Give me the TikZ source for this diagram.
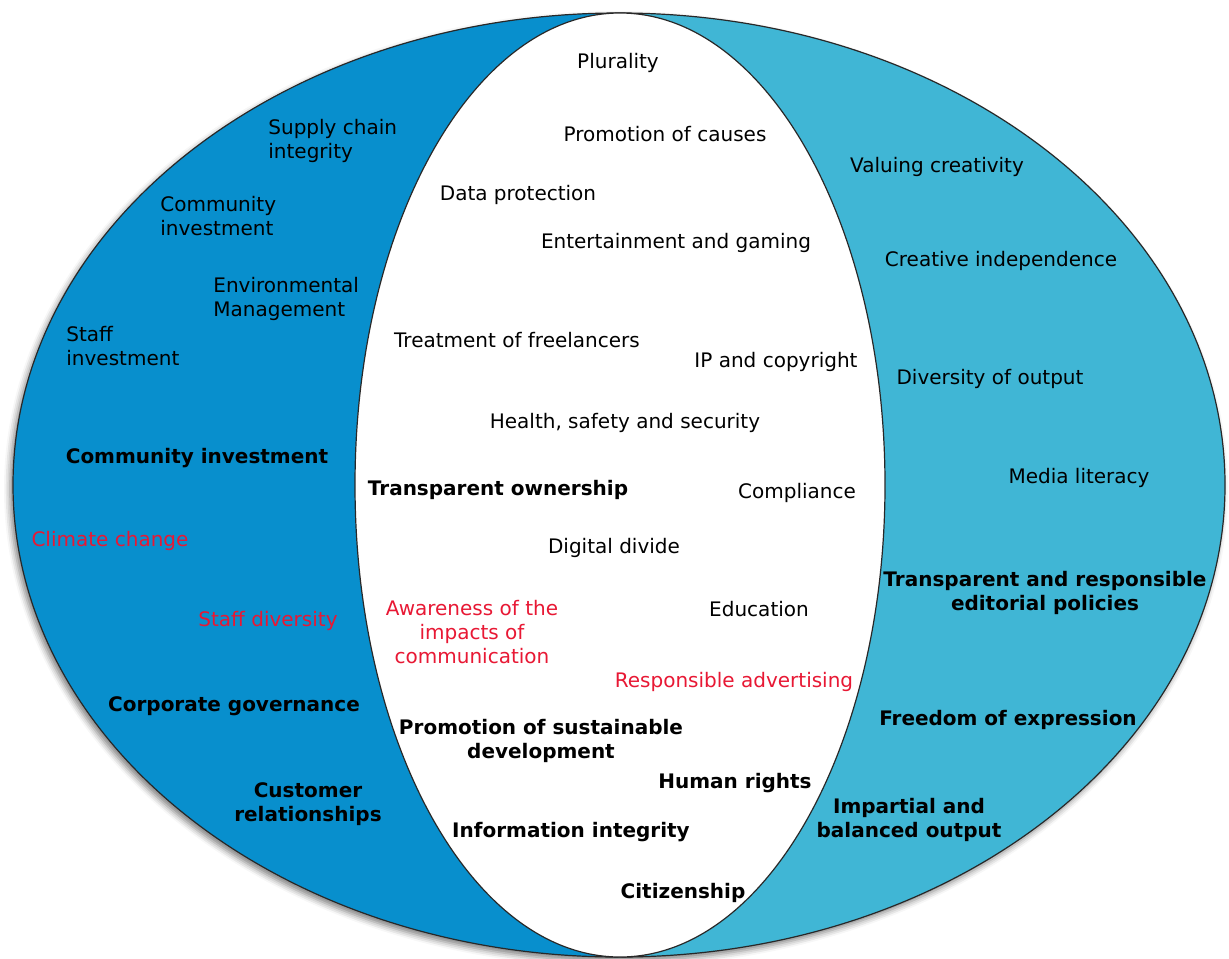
\documentclass[tikz,border=0pt]{standalone}
\usepackage{fontspec}
\setmainfont{DejaVu Sans}
\usepackage{xcolor}
\usetikzlibrary{shadows.blur}
\definecolor{leftblue}{RGB}{8,143,205}
\definecolor{rightblue}{RGB}{64,182,213}
\definecolor{issuered}{RGB}{232,24,52}
\definecolor{rim}{RGB}{40,40,40}
\tikzset{
	issue/.style={inner sep=0pt, yshift=-1pt, font=\fontsize{10}{12}\selectfont, text=black},
	keyissue/.style={issue, font=\fontsize{10}{12}\selectfont\bfseries},
	newissue/.style={issue, text=issuered}
}

\begin{document}
\begin{tikzpicture}[x=0.5pt, y=-0.5pt]
		\useasboundingbox (0,0) rectangle (1229,958);
		% outer ellipse, two halves
		\fill[rightblue, blur shadow={shadow xshift=-1.5pt, shadow yshift=-2pt, shadow blur radius=3pt, shadow opacity=50}] (619,485) ellipse [x radius=606, y radius=472];
		\begin{scope}
			\clip (0,0) rectangle (619,958);
			\fill[leftblue] (619,485) ellipse [x radius=606, y radius=472];
		\end{scope}
		\draw[rim, line width=0.6pt] (619,485) ellipse [x radius=606, y radius=472];
		% white lens
		\filldraw[fill=white, draw=rim, line width=0.6pt] (620,485) ellipse [x radius=265, y radius=472];

		% middle
		\node[issue] (plurality) at (618,61) {Plurality};
		\node[issue] (causes) at (665,132) {Promotion of causes};
		\node[issue] (dataprot) at (518,193) {Data protection};
		\node[issue] (gaming) at (676,241) {Entertainment and gaming};
		\node[issue] (freelance) at (517,338) {Treatment of freelancers};
		\node[issue] (ipcopy) at (776,360) {IP and copyright};
		\node[issue] (safety) at (625,421) {Health, safety and security};
		\node[keyissue] (ownership) at (498,488) {Transparent ownership};
		\node[issue] (compliance) at (797,491) {Compliance};
		\node[issue] (divide) at (614,546) {Digital divide};
		\node[newissue, align=center] (awareness) at (472,630) {Awareness of the\\impacts of\\communication};
		\node[issue] (education) at (759,607) {Education};
		\node[newissue] (advertising) at (734,680) {Responsible advertising};
		\node[keyissue, align=center] (sustain) at (541,739) {Promotion of sustainable\\development};
		\node[keyissue] (rights) at (735,781) {Human rights};
		\node[keyissue] (integrity) at (571,830) {Information integrity};
		\node[keyissue] (citizen) at (683,891) {Citizenship};

		% left
		\node[issue, anchor=west, align=left] (supply) at (268,139) {Supply chain\\integrity};
		\node[issue, anchor=west, align=left] (community) at (160,214) {Community\\investment};
		\node[issue, anchor=west, align=left] (environment) at (213,297) {Environmental\\Management};
		\node[issue, anchor=west, align=left] (staff) at (66,344) {Staff\\investment};
		\node[keyissue] (communityb) at (197,456) {Community investment};
		\node[newissue] (climate) at (110,539) {Climate change};
		\node[newissue] (diversity) at (268,619) {Staff diversity};
		\node[keyissue] (governance) at (234,704) {Corporate governance};
		\node[keyissue, align=center] (customer) at (308,802) {Customer\\relationships};

		% right
		\node[issue] (creativity) at (937,165) {Valuing creativity};
		\node[issue] (independence) at (1001,259) {Creative independence};
		\node[issue] (output) at (990,377) {Diversity of output};
		\node[issue] (literacy) at (1079,476) {Media literacy};
		\node[keyissue, align=center] (editorial) at (1045,591) {Transparent and responsible\\editorial policies};
		\node[keyissue] (expression) at (1008,718) {Freedom of expression};
		\node[keyissue, align=center] (impartial) at (909,818) {Impartial and\\balanced output};
	\end{tikzpicture}
\end{document}
